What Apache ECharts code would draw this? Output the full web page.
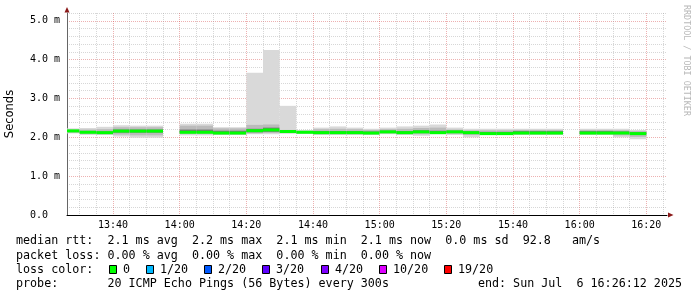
<!DOCTYPE html>
<html><head><meta charset="utf-8">
<script src="https://cdn.jsdelivr.net/npm/echarts@6/dist/echarts.min.js"></script>
<style>html,body{margin:0;padding:0;background:#fff}#c{width:697px;height:297px}</style>
</head><body><div id="c"></div>
<script>
// ---- data (ms), one entry per 5-minute step; null = no data ----
const intervalStarts = ['13:25','13:30','13:35','13:40','13:45','13:50','13:55','14:00','14:05','14:10','14:15','14:20','14:25','14:30','14:35','14:40','14:45','14:50','14:55','15:00','15:05','15:10','15:15','15:20','15:25','15:30','15:35','15:40','15:45','15:50','15:55','16:00','16:05','16:10','16:15'];
const rttMin    = [2.10,2.06,2.06,2.02,1.99,1.99,null,2.05,2.05,2.06,2.06,2.08,2.08,2.09,2.09,2.06,2.06,2.06,2.06,2.08,2.06,2.04,2.08,2.06,2.00,2.06,2.06,2.06,2.06,2.06,null,2.06,2.06,2.00,1.95];
const rttP10    = [2.12,2.09,2.08,2.07,2.05,2.05,null,2.09,2.09,2.08,2.08,2.10,2.11,2.11,2.10,2.08,2.08,2.08,2.08,2.10,2.08,2.08,2.09,2.09,2.06,2.07,2.07,2.08,2.08,2.08,null,2.08,2.08,2.05,2.01];
const rttP25    = [2.15,2.11,2.10,2.12,2.12,2.12,null,2.11,2.11,2.09,2.09,2.13,2.14,2.13,2.12,2.10,2.10,2.10,2.09,2.12,2.10,2.11,2.10,2.11,2.10,2.08,2.08,2.09,2.09,2.09,null,2.09,2.09,2.09,2.08];
const rttMedian = [2.165,2.13,2.12,2.16,2.16,2.16,null,2.13,2.13,2.11,2.11,2.17,2.19,2.15,2.13,2.12,2.12,2.12,2.11,2.14,2.12,2.14,2.12,2.14,2.12,2.095,2.095,2.11,2.11,2.11,null,2.11,2.11,2.11,2.095];
const rttP75    = [2.18,2.16,2.15,2.20,2.20,2.20,null,2.20,2.20,2.17,2.17,2.22,2.25,2.17,2.15,2.16,2.16,2.16,2.15,2.17,2.16,2.18,2.17,2.17,2.15,2.14,2.14,2.16,2.16,2.16,null,2.16,2.16,2.15,2.13];
const rttP90    = [2.20,2.20,2.21,2.26,2.26,2.26,null,2.30,2.30,2.23,2.23,2.32,2.33,2.19,2.17,2.21,2.22,2.21,2.19,2.21,2.22,2.24,2.25,2.20,2.18,2.18,2.18,2.19,2.19,2.19,null,2.19,2.19,2.18,2.16];
const rttMax    = [2.23,2.24,2.27,2.31,2.30,2.30,null,2.35,2.35,2.26,2.26,3.66,4.25,2.81,2.18,2.25,2.28,2.25,2.22,2.25,2.28,2.30,2.33,2.25,2.22,2.22,2.22,2.22,2.22,2.22,null,2.22,2.22,2.22,2.19];
const lossCount = [0,0,0,0,0,0,null,0,0,0,0,0,0,0,0,0,0,0,0,0,0,0,0,0,0,0,0,0,0,0,null,0,0,0,0];

const yTickValues = [0,1,2,3,4,5];
const lossLabels = ['0','1/20','2/20','3/20','4/20','10/20','19/20'];
const lossColors = ['#00ff00','#00b8ff','#0059ff','#5e00ff','#7e00ff','#dd00ff','#ff0000'];
const lossThresholds = [0,1,2,3,4,10,19];
const legendRtt  = 'median rtt:  2.1 ms avg  2.2 ms max  2.1 ms min  2.1 ms now  0.0 ms sd  92.8   am/s';
const legendLoss = 'packet loss: 0.00 % avg  0.00 % max  0.00 % min  0.00 % now';
const legendColorTitle = 'loss color:';
const legendProbe = 'probe:       20 ICMP Echo Pings (56 Bytes) every 300s';
const legendEnd = 'end: Sun Jul  6 16:26:12 2025';
const rightCredit = 'RRDTOOL / TOBI OETIKER';
const xStart = '13:26:12', xEnd = '16:26:12';
const stepMinutes = 5;

// ---- helpers ----
const toMin = s => { const p = s.split(':').map(Number); return p[0]*60 + p[1] + (p[2]||0)/60; };
const fmtMin = v => { const m = Math.round(v); return String(Math.floor(m/60)).padStart(2,'0') + ':' + String(m%60).padStart(2,'0'); };
const lossColorOf = n => { let c = lossColors[0]; lossThresholds.forEach((t,i)=>{ if (n >= t) c = lossColors[i]; }); return c; };

const rows = [];
intervalStarts.forEach((s,i) => {
  if (rttMedian[i] == null) return;
  rows.push([toMin(s), rttMin[i], rttP10[i], rttP25[i], rttMedian[i], rttP75[i], rttP90[i], rttMax[i], lossCount[i]]);
});

const MONO = 'DejaVu Sans Mono';
const majorColor = 'rgba(210,60,60,0.4)';
const minorColor = 'rgba(150,150,150,0.38)';

const chart = echarts.init(document.getElementById('c'), null, {renderer:'canvas'});

const legendGraphics = [];
const LX = 16, LFS = 11.7;
legendGraphics.push({type:'text', x:LX, y:241, style:{text:legendRtt, font:`${LFS}px "${MONO}"`, fill:'#000', verticalAlign:'middle'}});
legendGraphics.push({type:'text', x:LX, y:255.5, style:{text:legendLoss, font:`${LFS}px "${MONO}"`, fill:'#000', verticalAlign:'middle'}});
legendGraphics.push({type:'text', x:LX, y:269.5, style:{text:legendColorTitle, font:`${LFS}px "${MONO}"`, fill:'#000', verticalAlign:'middle'}});
const boxX = [109,146,204,262,321,379,444];
lossLabels.forEach((lab,i) => {
  legendGraphics.push({type:'rect', shape:{x:boxX[i]+0.5, y:265.5, width:7, height:8}, style:{fill:lossColors[i], stroke:'#000', lineWidth:1}});
  legendGraphics.push({type:'text', x:boxX[i]+14, y:269.5, style:{text:lab, font:`${LFS}px "${MONO}"`, fill:'#000', verticalAlign:'middle'}});
});
legendGraphics.push({type:'text', x:LX, y:284, style:{text:legendProbe, font:`${LFS}px "${MONO}"`, fill:'#000', verticalAlign:'middle'}});
legendGraphics.push({type:'text', x:682, y:284, style:{text:legendEnd, font:`${LFS}px "${MONO}"`, fill:'#000', verticalAlign:'middle', align:'right'}});
legendGraphics.push({type:'text', x:686, y:5, rotation:-Math.PI/2, style:{text:rightCredit, font:`8.4px "${MONO}"`, fill:'#b8b8b8', verticalAlign:'middle', align:'left'}});
// axis arrows
legendGraphics.push({type:'polygon', shape:{points:[[64.5,12.5],[69.5,12.5],[67,7]]}, style:{fill:'#8b1a1a'}});
legendGraphics.push({type:'polygon', shape:{points:[[668,212.5],[668,217.5],[673.5,215]]}, style:{fill:'#8b1a1a'}});

chart.setOption({
  animation:false,
  backgroundColor:'#fff',
  grid:{left:67, right:30, top:13, bottom:82, outerBoundsMode:'none', containLabel:false},
  xAxis:{
    type:'value', min:toMin(xStart), max:toMin(xEnd), splitNumber:9, minInterval:20, maxInterval:20,
    axisLine:{show:true, onZero:false, lineStyle:{color:'#000', width:1}},
    axisTick:{show:false},
    axisLabel:{show:true, showMinLabel:false, showMaxLabel:false, formatter:fmtMin, margin:5, color:'#000', fontFamily:MONO, fontSize:10},
    splitLine:{show:true, showMinLine:false, showMaxLine:false, lineStyle:{color:majorColor, type:[1,1], width:1}},
    minorTick:{show:false, splitNumber:4},
    minorSplitLine:{show:true, lineStyle:{color:minorColor, type:[1,1], width:1}}
  },
  yAxis:{
    type:'value', min:0, max:5.2, interval:0.2,
    name:'Seconds', nameLocation:'middle', nameGap:51, nameRotate:90,
    nameTextStyle:{fontFamily:'DejaVu Sans', fontSize:11.5, color:'#000'},
    axisLine:{show:true, lineStyle:{color:'#666', width:1}},
    axisTick:{show:false},
    axisLabel:{show:true, align:'left', margin:37, color:'#000', fontFamily:MONO, fontSize:10,
      formatter: v => { if (Math.abs(v-Math.round(v))>1e-6 || !yTickValues.includes(Math.round(v))) return ''; return v===0 ? '0.0' : v.toFixed(1)+' m'; }},
    splitLine:{show:true, lineStyle:{color:[majorColor,minorColor,minorColor,minorColor,minorColor], type:[1,1], width:1}}
  },
  graphic: legendGraphics,
  series:[{
    type:'custom', clip:true, data:rows, encode:{x:0, y:[1,7]},
    renderItem(params, api){
      const t = api.value(0);
      const cs = params.coordSys;
      let x0 = api.coord([t,0])[0], x1 = api.coord([t+stepMinutes,0])[0];
      x0 = Math.max(x0, cs.x); x1 = Math.min(x1, cs.x+cs.width);
      const Y = k => api.coord([t, api.value(k)])[1];
      const band = (lo,hi,color) => ({type:'rect', shape:{x:x0, y:Y(hi), width:x1-x0, height:Y(lo)-Y(hi)}, style:{fill:color}});
      const ym = Y(4);
      return {type:'group', children:[
        band(1,7,'#d9d9d9'), band(2,6,'#bbbbbb'), band(3,5,'#7a7a7a'),
        {type:'rect', shape:{x:x0, y:ym-1.5, width:x1-x0, height:3}, style:{fill:lossColorOf(api.value(8))}}
      ]};
    }
  }]
});
</script></body></html>
